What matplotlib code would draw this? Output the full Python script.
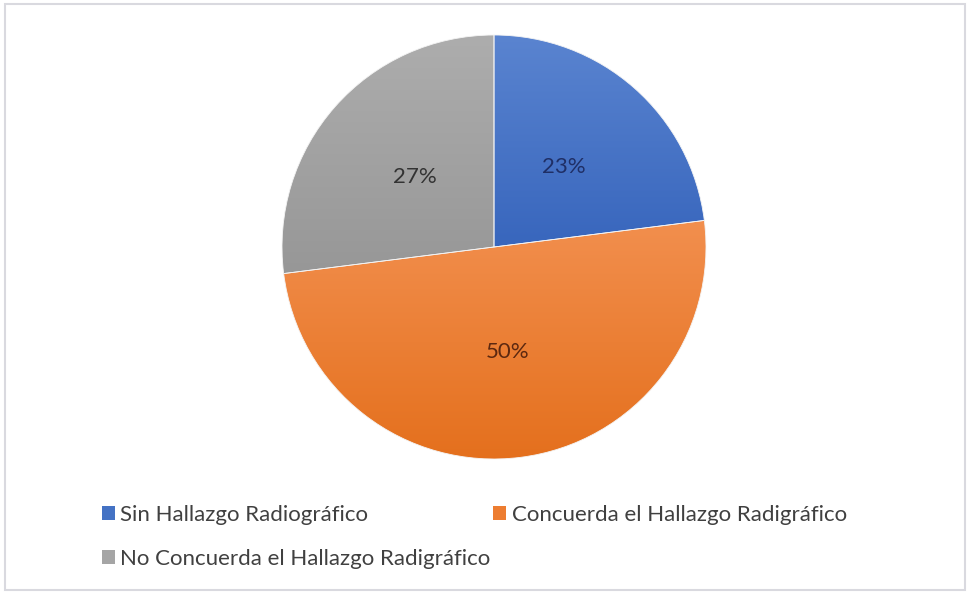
import matplotlib
matplotlib.use("Agg")
import matplotlib.pyplot as plt
import numpy as np
from matplotlib.patches import Patch, Rectangle
from matplotlib.colors import LinearSegmentedColormap

plt.rcParams["font.family"] = ["Lato", "DejaVu Sans"]

categories = ["Sin Hallazgo Radiográfico",
              "Concuerda el Hallazgo Radigráfico",
              "No Concuerda el Hallazgo Radigráfico"]
shares = [23, 50, 27]

# light (top) -> dark (bottom) per slice, Office-style fills
base_colors = ["#4472C4", "#ED7D31", "#A5A5A5"]
grad_colors = [("#5a84d0", "#3866bd"), ("#f28f4e", "#e46f1c"), ("#adadad", "#979797")]
label_colors = ["#1f2f66", "#5c2810", "#333333"]

W, H = 968, 592
fig = plt.figure(figsize=(W / 100, H / 100), dpi=100)
fig.patch.set_facecolor("white")

# pie axes: centre (494, 247) px from top, radius 212 px
cx, cy, r = 494, H - 247, 212
ax = fig.add_axes([(cx - r) / W, (cy - r) / H, 2 * r / W, 2 * r / H])
wedges, texts, autotexts = ax.pie(
    shares, colors=base_colors, startangle=90, counterclock=False,
    autopct="%1.0f%%", pctdistance=0.5, radius=1,
    wedgeprops=dict(edgecolor="#f4f4f4", linewidth=0.6),
    textprops=dict(fontsize=16),
)
ax.axis("off")

grad = np.linspace(0, 1, 256).reshape(-1, 1)
for w, (c_top, c_bot) in zip(wedges, grad_colors):
    cmap = LinearSegmentedColormap.from_list("g", [c_top, c_bot])
    verts = w.get_path().vertices
    ymin, ymax = verts[:, 1].min(), verts[:, 1].max()
    im = ax.imshow(grad, cmap=cmap, extent=[-1, 1, ymin, ymax],
                   aspect="auto", origin="upper", zorder=1)
    im.set_clip_path(w)
    w.set_facecolor("none")
    w.set_zorder(2)

for t, col in zip(autotexts, label_colors):
    t.set_color(col)
    t.set_zorder(3)

ax.set_xlim(-1, 1)
ax.set_ylim(-1, 1)

# legend: column-major fill, so reorder to get Sin/No in first column
handles = [Patch(facecolor=c, edgecolor="none") for c in base_colors]
order = [0, 2, 1]
fig.legend([handles[i] for i in order], [categories[i] for i in order],
           ncol=2, loc="upper left", bbox_to_anchor=(86 / W, 1 - 489 / H),
           frameon=False, fontsize=16, labelcolor="#404040",
           handlelength=0.6, handleheight=0.6, handletextpad=0.25,
           columnspacing=0.1, labelspacing=1.1, borderpad=0.2)

# thin chart-area border
fig.patches.append(Rectangle((5 / W, 2 / H), 960 / W, 586 / H, transform=fig.transFigure,
                             fill=False, edgecolor="#d9d9df", linewidth=1.5))

plt.savefig("out.png", dpi=100, facecolor=fig.get_facecolor())
plt.close()
